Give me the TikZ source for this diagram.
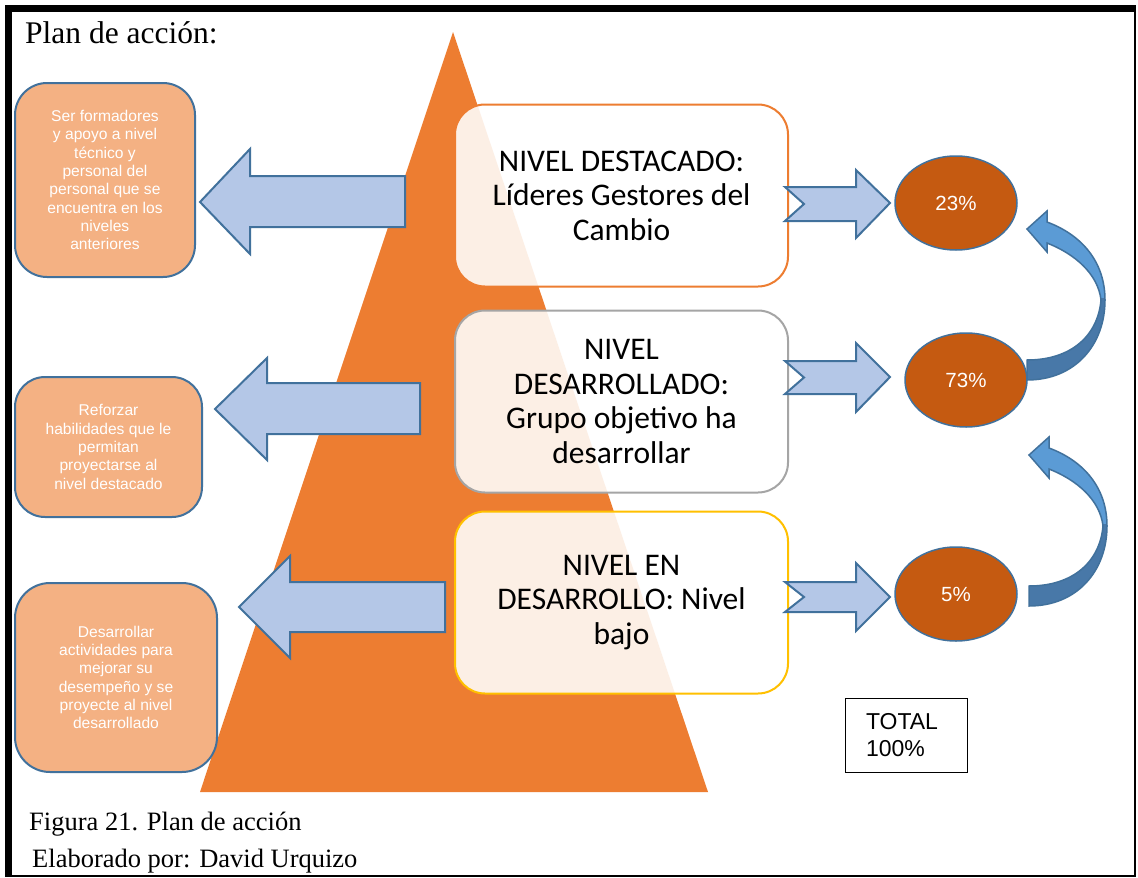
\documentclass[tikz,border=0pt]{standalone}
\usepackage{fontspec}
\setmainfont{Liberation Serif}
\newfontfamily\arialf{Liberation Sans}
\newfontfamily\calf{Carlito}
\usetikzlibrary{shapes.geometric}
\definecolor{triorange}{HTML}{ED7D31}
\definecolor{lbfill}{HTML}{F4B183}
\definecolor{bluebd}{HTML}{41719C}
\definecolor{arrfill}{HTML}{B4C7E7}
\definecolor{ellfill}{HTML}{C55A11}
\definecolor{curvelight}{HTML}{5B9BD5}
\definecolor{curvedark}{HTML}{4878A8}
\definecolor{graybd}{HTML}{A5A5A5}
\definecolor{goldbd}{HTML}{FFC000}
\begin{document}
\begin{tikzpicture}[x=1pt,y=-1pt,
 leftbox/.style={draw=bluebd, line width=2pt, fill=lbfill, align=center, text=white,
   font=\arialf\fontsize{15.6}{18.3}\selectfont, inner sep=0pt},
 mainbox/.style={line width=2pt, fill=white, fill opacity=0.88, text opacity=1,
   rounded corners=30pt, minimum width=333pt, minimum height=182pt, align=center,
   font=\calf\fontsize{31.5}{34.5}\selectfont, inner sep=0pt},
 blockarrow/.style={draw=bluebd, line width=2pt, fill=arrfill, line join=miter},
 pct/.style={ellipse, draw=bluebd, line width=1.5pt, fill=ellfill, text=white,
   font=\arialf\fontsize{20.5}{24}\selectfont, minimum width=122pt, minimum height=94pt, inner sep=0pt},
 curvebd/.style={draw=bluebd, line width=1.5pt, line join=miter}
]
\useasboundingbox (0,0) rectangle (1138,878);
\fill[white] (0,0) rectangle (1138,878);
% frame
\fill[black] (5,5) rectangle (1136,12);
\fill[black] (5,5) rectangle (12,877);
\draw[line width=2pt] (11,876) -- (1135,876) -- (1135,11);

% title
\node[anchor=base west, inner sep=0pt, font=\fontsize{31.5}{36}\selectfont] (title) at (25,43) {Plan de acción:};

% triangle
\fill[triorange] (453,32) -- (708,792) -- (200,792) -- cycle;

% left boxes
\node[leftbox, rounded corners=32pt, minimum width=180pt, minimum height=194pt] (lb1) at (105,180)
 {Ser formadores\\y apoyo a nivel\\técnico y\\personal del\\personal que se\\encuentra en los\\niveles\\anteriores};
\node[leftbox, rounded corners=30pt, minimum width=187pt, minimum height=140pt] (lb2) at (108.5,447)
 {Reforzar\\habilidades que le\\permitan\\proyectarse al\\nivel destacado};
\node[leftbox, rounded corners=35pt, minimum width=202pt, minimum height=189pt] (lb3) at (116,677.5)
 {Desarrollar\\actividades para\\mejorar su\\desempeño y se\\proyecte al nivel\\desarrollado};

% left block arrows
\draw[blockarrow] (405,176) -- (250,176) -- (250,149) -- (200,202) -- (250,254) -- (250,227) -- (405,227) -- cycle;
\draw[blockarrow] (420,383) -- (267,383) -- (267,358) -- (215,409) -- (267,460) -- (267,434) -- (420,434) -- cycle;
\draw[blockarrow] (445,582) -- (290,582) -- (290,556) -- (239,607) -- (290,658) -- (290,632) -- (445,632) -- cycle;

% main boxes
\node[mainbox, draw=triorange] (m1) at (621.5,195.5) {NIVEL DESTACADO:\\Líderes Gestores del\\Cambio};
\node[mainbox, draw=graybd] (m2) at (621.5,401.5) {NIVEL\\DESARROLLADO:\\Grupo objetivo ha\\desarrollar};
\node[mainbox, draw=goldbd] (m3) at (621.5,602.5) {NIVEL EN\\DESARROLLO: Nivel\\bajo};

% right notched arrows
\draw[blockarrow] (785,187) -- (856,187) -- (856,170) -- (890,203) -- (856,238) -- (856,221) -- (785,221) -- (804,204) -- cycle;
\draw[blockarrow] (785,361) -- (856,361) -- (856,343) -- (890,377) -- (856,412) -- (856,394) -- (785,394) -- (804,377.5) -- cycle;
\draw[blockarrow] (785,582) -- (856,582) -- (856,563) -- (890,597) -- (856,631) -- (856,612) -- (785,612) -- (804,597) -- cycle;

% ellipses
\node[pct] (e23) at (956,203) {23\%};
\node[pct] (e73) at (966,380) {73\%};
\node[pct] (e5) at (956,594) {5\%};

% curved arrows
\foreach \dx/\dy in {0/0, 2/226}{
\begin{scope}[shift={(\dx,\dy)}]
  \def\arrowpath{(1027,380) .. controls (1075,380) and (1105,345) .. (1105,300)
    .. controls (1105,262) and (1082,235) .. (1047,222)
    -- (1047,211) -- (1027,229) -- (1047,252) -- (1047,243)
    .. controls (1075,254) and (1098,274) .. (1101,300)
    .. controls (1098,335) and (1072,360) .. (1027,360) -- cycle}
  \fill[curvelight] \arrowpath;
  \begin{scope}
    \clip (1000,298) rectangle (1120,400);
    \fill[curvedark] \arrowpath;
  \end{scope}
  \draw[curvebd] \arrowpath;
\end{scope}
}

% total box
\node[draw, line width=1pt, minimum width=122pt, minimum height=74pt, text width=80pt,
  inner xsep=20pt, align=left, font=\arialf\fontsize{23}{27}\selectfont] (total) at (906,735) {TOTAL\\100\%};

% captions
\node[anchor=base west, inner sep=0pt, font=\fontsize{26.5}{30}\selectfont] (cap1) at (29,830) {Figura 21. Plan de acción};
\node[anchor=base west, inner sep=0pt, font=\fontsize{26.5}{30}\selectfont] (cap2) at (32,867) {Elaborado por: David Urquizo};
\end{tikzpicture}
\end{document}
